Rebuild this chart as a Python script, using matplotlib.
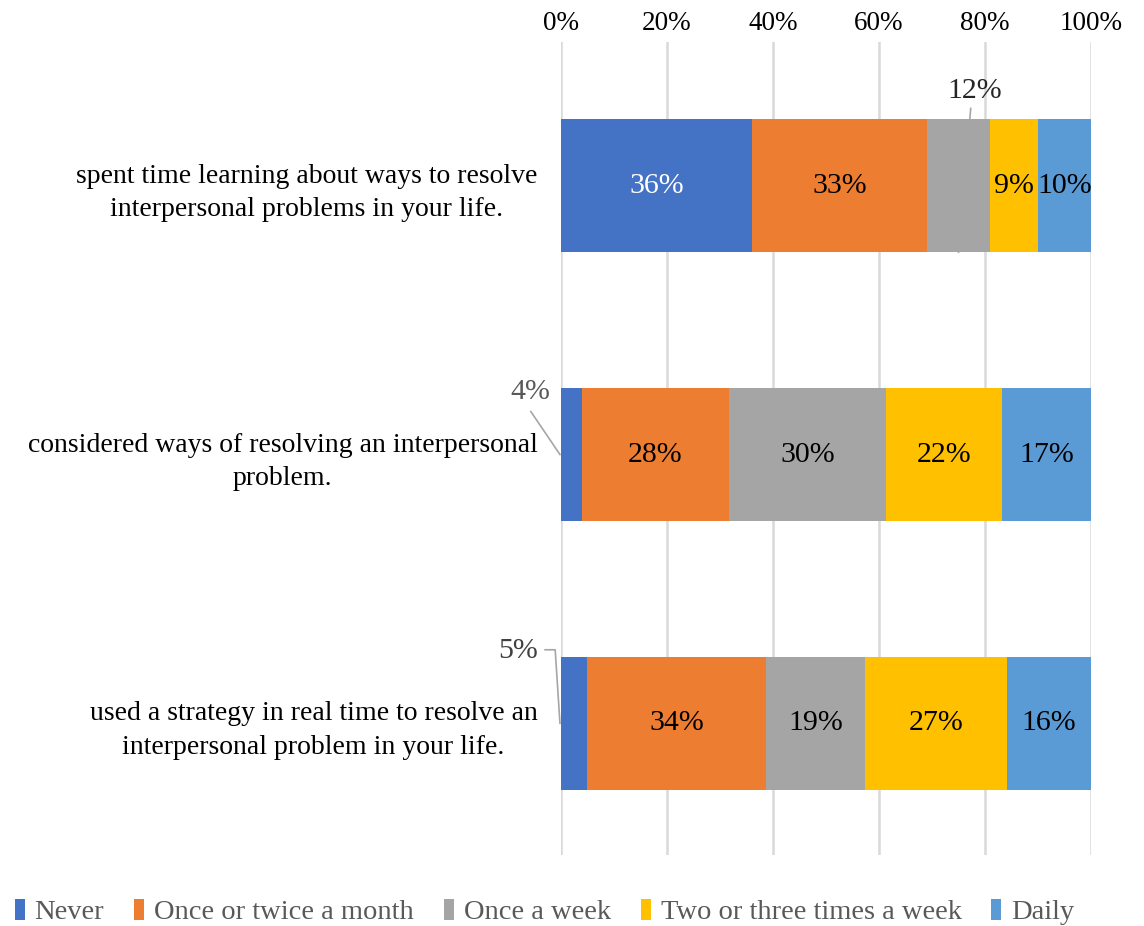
import numpy as np
import matplotlib.pyplot as plt

plt.rcParams['font.family'] = ['Liberation Serif', 'DejaVu Serif']

questions = [
    'spent time learning about ways to resolve\ninterpersonal problems in your life.',
    'considered ways of resolving an interpersonal\nproblem.',
    'used a strategy in real time to resolve an\ninterpersonal problem in your life.',
]
series = ['Never', 'Once or twice a month', 'Once a week',
          'Two or three times a week', 'Daily']
colors = ['#4472C4', '#ED7D31', '#A5A5A5', '#FFC000', '#5B9BD5']

# percentages as printed on the bars (rows = questions)
never = [36, 4, 5]
monthly = [33, 28, 34]
weekly = [12, 30, 19]
few_weekly = [9, 22, 27]
daily = [10, 17, 16]

vals = np.array([never, monthly, weekly, few_weekly, daily], dtype=float)
# 100% stacked, like the spreadsheet does
shares = vals / vals.sum(axis=0) * 100

fig = plt.figure(figsize=(11.44, 9.26), dpi=100)
ax = fig.add_axes([0.4904, 0.0767, 0.4633, 0.878])

lab_fs = 21.5
y = np.arange(len(questions))
h = 0.495
left = np.zeros(len(questions))
for i, name in enumerate(series):
    ax.barh(y, shares[i], left=left, height=h, color=colors[i], label=name, zorder=2)
    for j in range(len(questions)):
        cx = left[j] + shares[i][j] / 2
        txt = f'{int(vals[i][j])}%'
        if i == 0 and j == 0:
            ax.text(cx, y[j], txt, ha='center', va='center', color='white', fontsize=lab_fs)
        elif i == 0:
            continue
        elif i == 2 and j == 0:
            continue
        else:
            ax.text(cx, y[j], txt, ha='center', va='center', color='black', fontsize=lab_fs)
    left += shares[i]

# callout labels with leader lines
lc = '#A6A6A6'
c12 = shares[0][0] + shares[1][0] + shares[2][0] / 2
ax.text(78.1, y[0] - h / 2 - 0.105, '12%', ha='center', va='center', fontsize=lab_fs, color='#262626')
ax.plot([77.3, c12], [y[0] - h / 2 - 0.04, y[0] + h / 2], color=lc, lw=1.2, zorder=3)

ax.text(-5.8, y[1] - h / 2 + 0.015, '4%', ha='center', va='center', fontsize=lab_fs, color='#595959')
ax.plot([-5.7, -0.2], [y[1] - 0.16, y[1]], color=lc, lw=1.2, clip_on=False, zorder=3)

ax.text(-4.3, y[2] - h / 2 - 0.022, '5%', ha='right', va='center', fontsize=lab_fs, color='#404040')
ax.plot([-3.0, -1.1, -0.2], [y[2] - h / 2 - 0.026, y[2] - h / 2 - 0.026, y[2]],
        color=lc, lw=1.2, clip_on=False, zorder=3)

ax.set_xlim(0, 100)
ax.set_ylim(2.49, -0.535)
ax.set_xticks(np.arange(0, 101, 20))
ax.set_xticklabels([f'{t}%' for t in range(0, 101, 20)], fontsize=19.5)
ax.xaxis.tick_top()
ax.tick_params(axis='x', length=0, pad=4)
ax.set_yticks(y)
ax.set_yticklabels(questions, fontsize=20, ha='right', multialignment='center', linespacing=1.45)
ax.tick_params(axis='y', length=0, pad=17)
ax.grid(axis='x', color='#D9D9D9', lw=1.8, zorder=0)
ax.set_axisbelow(True)
for s in ax.spines.values():
    s.set_visible(False)

fig.legend(loc='lower center', bbox_to_anchor=(0.476, -0.027), ncol=5, frameon=False,
           fontsize=20.5, handlelength=0.35, handleheight=0.8, handletextpad=0.35,
           columnspacing=1.05, labelcolor='#595959')

fig.savefig('out.png', dpi=100)
